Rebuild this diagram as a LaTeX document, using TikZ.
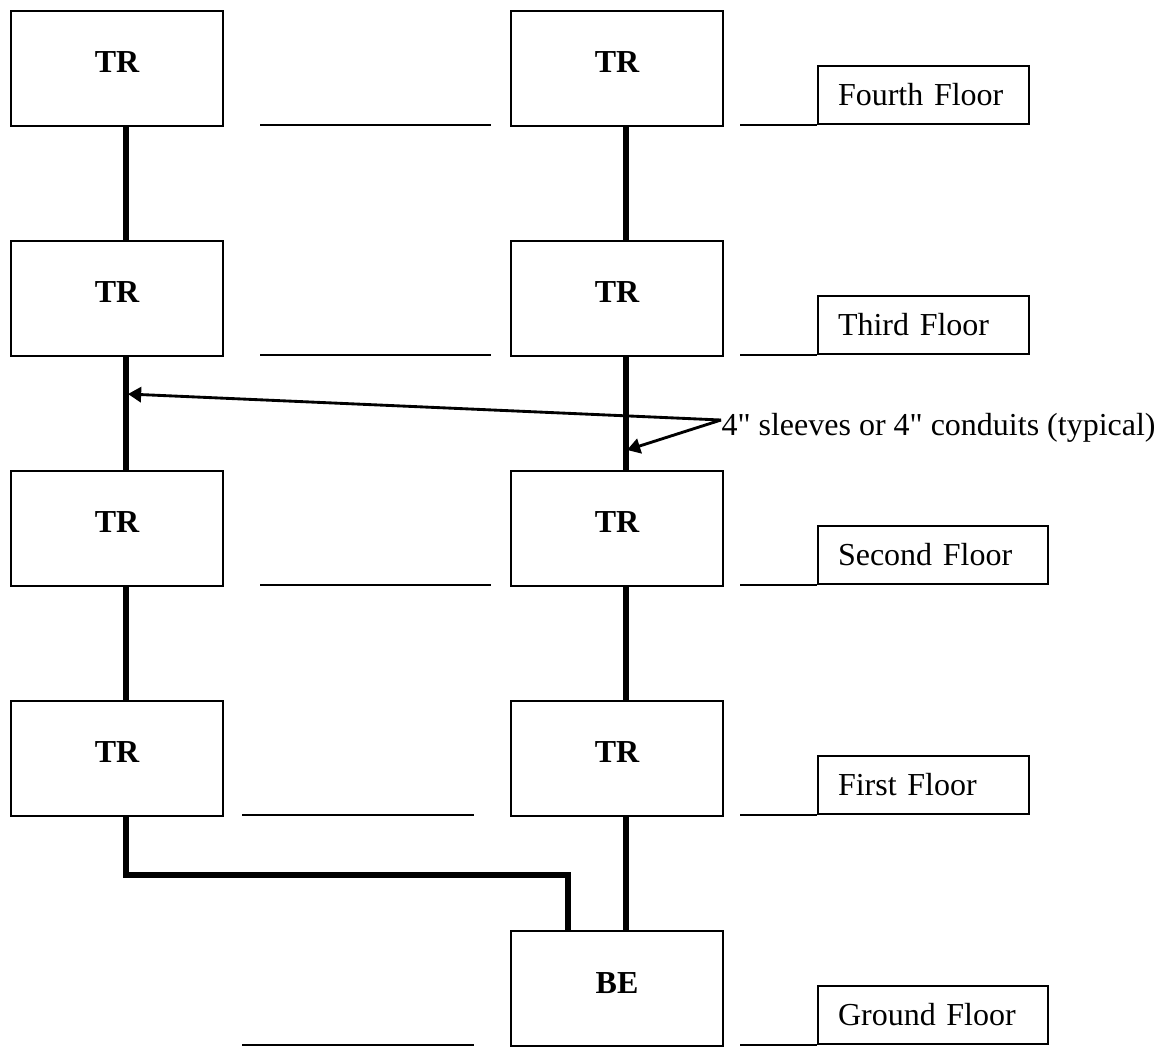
\documentclass[tikz,border=0pt]{standalone}
\usepackage{fontspec}
\setmainfont{Liberation Serif}
\newfontfamily\notefont{Liberation Serif}
\usetikzlibrary{arrows.meta}
\begin{document}
\begin{tikzpicture}[x=0.35pt, y=-0.35pt,
    every node/.style={font=\fontsize{11.2}{13.4}\selectfont},
    room/.style={draw, line width=0.7pt, anchor=north west, minimum width=74.2pt,
      minimum height=40.25pt, text depth=4.2pt, font=\fontsize{11.2}{13.4}\selectfont\bfseries},
    floorbox/.style={draw, line width=0.7pt, anchor=south west, minimum height=20.3pt,
      inner xsep=7pt, align=left},
    riser/.style={line width=2.1pt},
    level/.style={line width=0.7pt},
    callout/.style={line width=1pt, -{Triangle[length=4.6pt, width=5.3pt]}}]
  \useasboundingbox (0,0) rectangle (1166,1047);
  \foreach \r/\top in {4/10, 3/240, 2/470, 1/700} {
    \node[room] (L\r) at (10,\top) {TR};
    \node[room] (R\r) at (510,\top) {TR};
  }
  \node[room] (BE) at (510,930) {BE};
  \foreach \r/\bot/\lab/\tw/\xa/\xb in {4/125/Fourth Floor/59.85pt/260/491,
      3/355/Third Floor/59.85pt/260/491, 2/585/Second Floor/66.5pt/260/491,
      1/815/First Floor/59.85pt/242/474, 0/1045/Ground Floor/66.5pt/242/474} {
    \node[floorbox, text width=\tw] (F\r) at (817,\bot) {\lab};
    \draw[level] (\xa,\bot) -- (\xb,\bot);
    \draw[level] (740,\bot) -- (F\r.south west);
  }
  \foreach \a/\b in {4/3, 3/2, 2/1} {
    \draw[riser] ([xshift=3.15pt]L\a.south) -- ([xshift=3.15pt]L\b.north);
    \draw[riser] ([xshift=3.15pt]R\a.south) -- ([xshift=3.15pt]R\b.north);
  }
  \draw[riser] ([xshift=3.15pt]R1.south) -- ([xshift=3.15pt]BE.north);
  \draw[riser] ([xshift=3.15pt]L1.south) -- ++(0,58) -| ([xshift=-17.15pt]BE.north);
  \node[anchor=base west, inner sep=0pt, font=\fontsize{11.2}{13.4}\notefont] (note) at (721,435)
    {4" sleeves or 4" conduits (typical)};
  \coordinate (tipL) at (128,394);
  \coordinate (tipR) at (627,450);
  \draw[callout] ([yshift=5.25pt]note.base west) -- (tipL);
  \draw[callout] ([yshift=5.25pt]note.base west) -- (tipR);
\end{tikzpicture}
\end{document}
